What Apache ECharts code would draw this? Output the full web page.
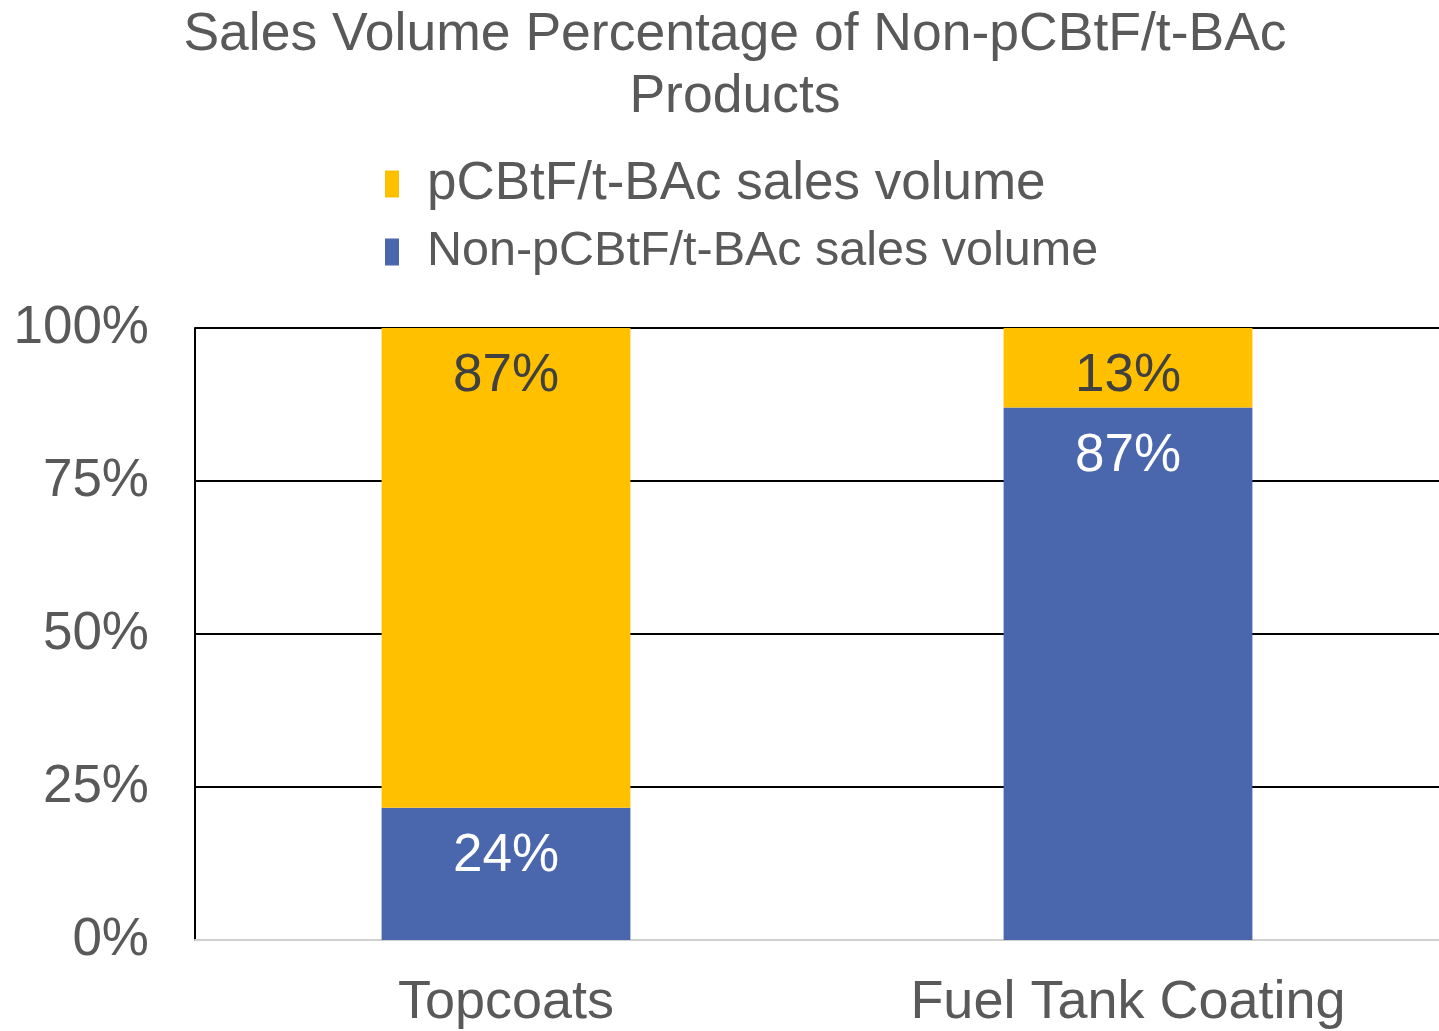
<!DOCTYPE html>
<html>
<head>
<meta charset="utf-8">
<script src="https://cdn.jsdelivr.net/npm/echarts@6/dist/echarts.min.js"></script>
<style>html,body{margin:0;padding:0;background:#fff}#c{width:1439px;height:1031px}</style>
</head>
<body>
<div id="c"></div>
<script>
const categories = ['Topcoats', 'Fuel Tank Coating'];
const seriesNames = ['Non-pCBtF/t-BAc sales volume', 'pCBtF/t-BAc sales volume'];
const nonValues = [24, 87];
const pcbtfValues = [87, 13];
const yTicks = [0, 25, 50, 75, 100];

const totals = categories.map((c, i) => nonValues[i] + pcbtfValues[i]);
const share = (arr) => arr.map((v, i) => ({ value: v / totals[i] * 100, raw: v }));

const FONT = 'Liberation Sans, Arial, sans-serif';
const GRAY = '#595959';

const chart = echarts.init(document.getElementById('c'), null, { renderer: 'canvas' });
chart.setOption({
  animation: false,
  backgroundColor: '#fff',
  title: {
    text: 'Sales Volume Percentage of Non-pCBtF/t-BAc\nProducts',
    left: 730, textAlign: 'center', top: -1,
    textStyle: { fontFamily: FONT, fontSize: 53.5, fontWeight: 'normal', color: GRAY, lineHeight: 62 }
  },
  legend: {
    orient: 'vertical', left: 385, top: 156, padding: 0,
    data: [seriesNames[1], seriesNames[0]],
    itemWidth: 14, itemHeight: 27, itemGap: 12, icon: 'rect',
    formatter: name => name === seriesNames[0] ? '{n|' + name + '}' : '{p|' + name + '}',
    textStyle: {
      fontFamily: FONT, fontSize: 53, color: GRAY, lineHeight: 56, padding: [0, 0, 0, 23],
      rich: {
        p: { fontFamily: FONT, fontSize: 53, color: GRAY, lineHeight: 56 },
        n: { fontFamily: FONT, fontSize: 48.5, color: GRAY, lineHeight: 56 }
      }
    }
  },
  grid: { left: 195, width: 1251, top: 328, bottom: 91, containLabel: false },
  xAxis: {
    type: 'category', data: categories,
    axisLine: { lineStyle: { color: '#d0d0d0', width: 2 } },
    axisTick: { show: false },
    axisLabel: { fontFamily: FONT, fontSize: 54, color: GRAY, margin: 36 }
  },
  yAxis: {
    type: 'value', min: yTicks[0], max: yTicks[yTicks.length - 1], interval: 25,
    axisLine: { show: true, lineStyle: { color: '#000', width: 2 } },
    axisTick: { show: false },
    splitLine: { lineStyle: { color: '#000', width: 2 } },
    axisLabel: { fontFamily: FONT, fontSize: 53, color: GRAY, margin: 46, formatter: '{value}%' }
  },
  series: [
    {
      name: seriesNames[0], type: 'bar', stack: 'total', barWidth: '40%',
      itemStyle: { color: '#4A66AC' },
      data: share(nonValues),
      label: { show: true, position: 'insideTop', distance: 22, fontFamily: FONT, fontSize: 53, color: '#fff',
        formatter: p => p.data.raw + '%' }
    },
    {
      name: seriesNames[1], type: 'bar', stack: 'total', barWidth: '40%',
      itemStyle: { color: '#FFC000' },
      data: share(pcbtfValues),
      label: { show: true, position: 'insideTop', distance: 22, fontFamily: FONT, fontSize: 53, color: '#404040',
        formatter: p => p.data.raw + '%' }
    }
  ]
});
</script>
</body>
</html>
